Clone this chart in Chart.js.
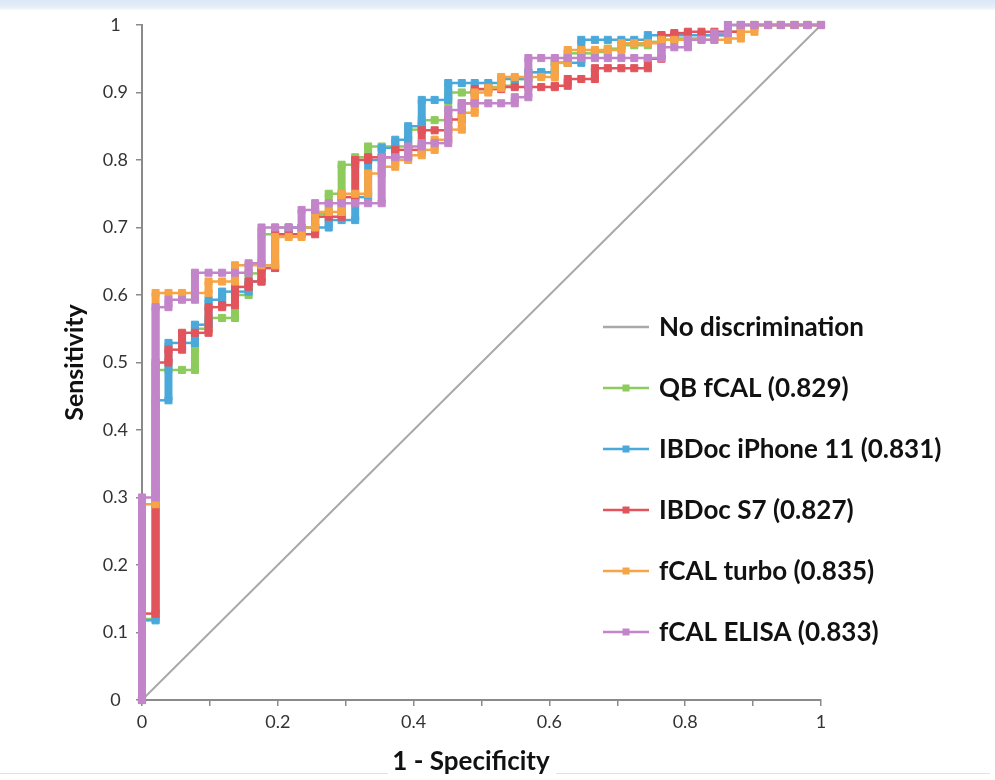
<!DOCTYPE html>
<html>
<head>
<meta charset="utf-8">
<script src="https://cdn.jsdelivr.net/npm/chart.js@4.4.1/dist/chart.umd.min.js"></script>
<style>
  html, body { margin: 0; padding: 0; background: #ffffff; }
  #wrap { position: relative; width: 995px; height: 780px; overflow: hidden; background: #ffffff; }
  #band { position: absolute; left: 0; top: 0; width: 995px; height: 10px;
          background: linear-gradient(to bottom, #dbe7f5 0%, #e6eff9 70%, #f6f9fd 100%); }
  .rule { position: absolute; top: 773px; height: 1px; background: #e2e2e2; }
  canvas { position: absolute; left: 0; top: 0; }
</style>
</head>
<body>
<div id="wrap">
  <div id="band"></div>
  <div class="rule" style="left:0;width:388px"></div>
  <div class="rule" style="left:556px;width:434px"></div>
  <canvas id="c" width="995" height="780"></canvas>
</div>
<script>
// ---- Data ----
// 1 - Specificity steps (shared x positions)
const fpr = [0, 0.020, 0.039, 0.059, 0.078, 0.098, 0.118, 0.137, 0.157, 0.176,
  0.196, 0.216, 0.235, 0.255, 0.275, 0.294, 0.314, 0.333, 0.353, 0.373,
  0.392, 0.412, 0.431, 0.451, 0.471, 0.490, 0.510, 0.529, 0.549, 0.569,
  0.588, 0.608, 0.627, 0.647, 0.667, 0.686, 0.706, 0.725, 0.745, 0.765,
  0.784, 0.804, 0.824, 0.843, 0.863, 0.882, 0.902, 0.922, 0.941, 0.961,
  0.980, 1];

// Sensitivity reached at each 1 - Specificity step
const qbFcal = [0.12, 0.489, 0.489, 0.489, 0.55, 0.566, 0.566, 0.60, 0.632, 0.69,
  0.70, 0.70, 0.70, 0.72, 0.75, 0.793, 0.804, 0.82, 0.82, 0.82,
  0.845, 0.859, 0.859, 0.90, 0.90, 0.905, 0.908, 0.91, 0.92, 0.93,
  0.93, 0.944, 0.958, 0.958, 0.96, 0.965, 0.97, 0.97, 0.975, 0.978,
  0.98, 0.98, 0.985, 0.985, 0.99, 1, 1, 1, 1, 1,
  1, 1];
const ibdocIphone = [0.118, 0.444, 0.529, 0.529, 0.556, 0.593, 0.605, 0.605, 0.62, 0.64,
  0.69, 0.70, 0.70, 0.70, 0.711, 0.711, 0.745, 0.80, 0.818, 0.83,
  0.85, 0.889, 0.889, 0.914, 0.914, 0.914, 0.914, 0.92, 0.92, 0.93,
  0.93, 0.944, 0.944, 0.978, 0.978, 0.978, 0.978, 0.978, 0.985, 0.985,
  0.985, 0.985, 0.985, 0.985, 1, 1, 1, 1, 1, 1,
  1, 1];
const ibdocS7 = [0.128, 0.50, 0.519, 0.544, 0.544, 0.582, 0.585, 0.612, 0.62, 0.64,
  0.69, 0.69, 0.69, 0.716, 0.716, 0.745, 0.80, 0.804, 0.804, 0.815,
  0.815, 0.844, 0.844, 0.86, 0.884, 0.905, 0.905, 0.908, 0.908, 0.908,
  0.908, 0.91, 0.92, 0.92, 0.936, 0.936, 0.936, 0.936, 0.95, 0.985,
  0.988, 0.99, 0.99, 0.99, 0.99, 1, 1, 1, 1, 1,
  1, 1];
const fcalTurbo = [0.29, 0.603, 0.603, 0.603, 0.603, 0.62, 0.62, 0.644, 0.644, 0.644,
  0.686, 0.686, 0.70, 0.723, 0.723, 0.75, 0.75, 0.78, 0.79, 0.80,
  0.807, 0.815, 0.83, 0.845, 0.87, 0.90, 0.907, 0.923, 0.923, 0.923,
  0.923, 0.944, 0.963, 0.963, 0.963, 0.963, 0.973, 0.973, 0.973, 0.978,
  0.978, 0.978, 0.978, 0.978, 0.98, 0.99, 1, 1, 1, 1,
  1, 1];
const fcalElisa = [0.30, 0.582, 0.593, 0.593, 0.633, 0.633, 0.633, 0.633, 0.647, 0.70,
  0.70, 0.70, 0.726, 0.736, 0.736, 0.736, 0.736, 0.736, 0.804, 0.804,
  0.82, 0.825, 0.825, 0.874, 0.884, 0.884, 0.884, 0.884, 0.893, 0.951,
  0.951, 0.951, 0.951, 0.951, 0.951, 0.951, 0.951, 0.951, 0.951, 0.967,
  0.967, 0.978, 0.978, 0.988, 1, 1, 1, 1, 1, 1,
  1, 1];

// Reference diagonal
const diagX = [0, 1];
const diagY = [0, 1];

const seriesLabels = ['No discrimination', 'QB fCAL (0.829)', 'IBDoc iPhone 11 (0.831)',
  'IBDoc S7 (0.827)', 'fCAL turbo (0.835)', 'fCAL ELISA (0.833)'];
const tickLabelsY = ['0', '0.1', '0.2', '0.3', '0.4', '0.5', '0.6', '0.7', '0.8', '0.9', '1'];
const tickLabelsX = ['0', '', '0.2', '', '0.4', '', '0.6', '', '0.8', '', '1'];
const xTitle = '1 - Specificity';
const yTitle = 'Sensitivity';

// ---- Build step (ROC) point lists from the values ----
function rocPoints(xs, ys) {
  const pts = [{x: 0, y: 0}];
  let prev = 0;
  for (let k = 0; k < xs.length; k++) {
    if (k > 0) pts.push({x: xs[k], y: prev});
    if (ys[k] !== prev || k === 0) pts.push({x: xs[k], y: ys[k]});
    prev = ys[k];
  }
  return pts;
}

const FONT = 'Lato, "Open Sans", "Liberation Sans", sans-serif';
const colors = {
  diag: '#a9a9a9',
  qb: '#8dcb5c',
  iphone: '#4aa9da',
  s7: '#e2545c',
  turbo: '#f6a446',
  elisa: '#c385c9'
};

function rocDataset(label, values, color, order) {
  return {
    label: label,
    data: rocPoints(fpr, values),
    borderColor: color,
    backgroundColor: color,
    pointStyle: 'rect',
    pointRadius: 5,
    pointBorderWidth: 1,
    pointBorderColor: color,
    pointBackgroundColor: color,
    pointHoverRadius: 5,
    borderWidth: 2.5,
    tension: 0,
    clip: 12,
    order: order,
    segment: {
      borderWidth: ctx => (Math.abs(ctx.p0.parsed.x - ctx.p1.parsed.x) < 1e-9 ? 8 : 2.5)
    }
  };
}

const legendPlugin = {
  id: 'insideLegend',
  afterDraw(chart) {
    const ctx = chart.ctx;
    const ds = chart.data.datasets;
    const rowsY = [327, 388, 449, 510, 571, 632];
    ctx.save();
    ds.forEach((d, i) => {
      const y = rowsY[i];
      ctx.strokeStyle = d.borderColor;
      ctx.lineWidth = 2.5;
      ctx.beginPath();
      ctx.moveTo(603, y);
      ctx.lineTo(649, y);
      ctx.stroke();
      if (i > 0) {
        ctx.fillStyle = d.borderColor;
        ctx.fillRect(622.5, y - 3.5, 7, 7);
      }
      ctx.fillStyle = '#111111';
      ctx.font = 'bold 26px ' + FONT;
      ctx.textAlign = 'left';
      ctx.textBaseline = 'middle';
      ctx.fillText(d.label, 659, y + 1);
    });
    // x-axis title (placed as in the reference, slightly left of centre)
    ctx.font = 'bold 26px ' + FONT;
    ctx.textAlign = 'center';
    ctx.textBaseline = 'middle';
    ctx.fillText(xTitle, 471, 762);
    ctx.restore();
  }
};

new Chart(document.getElementById('c'), {
  type: 'line',
  data: {
    datasets: [
      {
        label: seriesLabels[0],
        data: diagX.map((x, i) => ({x: x, y: diagY[i]})),
        borderColor: colors.diag,
        backgroundColor: colors.diag,
        borderWidth: 2,
        pointRadius: 0,
        order: 10
      },
      rocDataset(seriesLabels[1], qbFcal, colors.qb, 5),
      rocDataset(seriesLabels[2], ibdocIphone, colors.iphone, 4),
      rocDataset(seriesLabels[3], ibdocS7, colors.s7, 3),
      rocDataset(seriesLabels[4], fcalTurbo, colors.turbo, 2),
      rocDataset(seriesLabels[5], fcalElisa, colors.elisa, 1)
    ]
  },
  options: {
    responsive: false,
    animation: false,
    events: [],
    layout: { padding: { left: 0, right: 174, top: 25, bottom: 0 } },
    plugins: {
      legend: { display: false },
      tooltip: { enabled: false }
    },
    scales: {
      x: {
        type: 'linear',
        min: 0, max: 1,
        afterFit: s => { s.height = 80; },
        afterBuildTicks: s => { s.ticks = tickLabelsX.map((t, i) => ({value: i / 10})); },
        ticks: {
          autoSkip: false,
          maxRotation: 0,
          padding: 5,
          color: '#333333',
          font: { family: FONT, size: 18 },
          callback: (v, i) => tickLabelsX[i]
        },
        grid: { display: true, drawOnChartArea: false, drawTicks: true, tickLength: 6, color: '#8a8a8a', lineWidth: 1.5 },
        border: { display: true, color: '#8a8a8a', width: 2 },
        title: { display: false, text: xTitle }
      },
      y: {
        type: 'linear',
        min: 0, max: 1,
        afterFit: s => { s.width = 142; },
        afterBuildTicks: s => { s.ticks = tickLabelsY.map((t, i) => ({value: i / 10})); },
        ticks: {
          autoSkip: false,
          crossAlign: 'center',
          padding: 8,
          color: '#333333',
          font: { family: FONT, size: 18 },
          callback: (v, i) => tickLabelsY[i]
        },
        grid: { display: true, drawOnChartArea: false, drawTicks: true, tickLength: 6, color: '#8a8a8a', lineWidth: 1.5 },
        border: { display: true, color: '#8a8a8a', width: 2 },
        title: {
          display: true,
          text: yTitle,
          color: '#111111',
          font: { family: FONT, size: 25, weight: 'bold' },
          padding: { top: 60, bottom: 0 }
        }
      }
    }
  },
  plugins: [legendPlugin]
});
</script>
</body>
</html>
